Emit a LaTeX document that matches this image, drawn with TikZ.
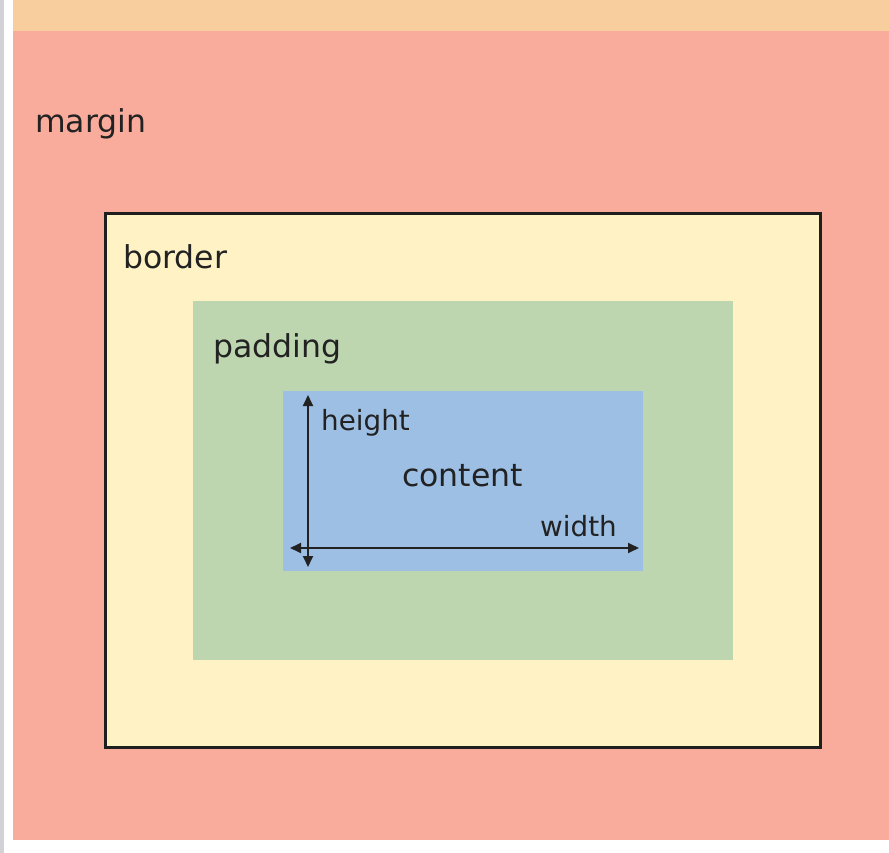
\documentclass[tikz,border=0pt]{standalone}
\usepackage{fontspec}
\setmainfont{DejaVu Sans}
\usetikzlibrary{arrows.meta}
\definecolor{graystrip}{HTML}{D2D2D6}
\definecolor{topband}{HTML}{F8CE9F}
\definecolor{marginc}{HTML}{F9AB9C}
\definecolor{borderc}{HTML}{FFF3C6}
\definecolor{paddingc}{HTML}{BDD6AF}
\definecolor{contentc}{HTML}{9CBFE3}
\definecolor{txt}{HTML}{222222}
\begin{document}
\begin{tikzpicture}[x=1pt,y=-1pt,
  lbl/.style={anchor=base west,inner sep=0pt,text=txt,font=\fontsize{31.5}{36}\selectfont},
  smalllbl/.style={anchor=base west,inner sep=0pt,text=txt,font=\fontsize{27.8}{32}\selectfont},
  dim/.style={txt,line width=1.8pt,{Triangle[length=11pt,width=10pt]}-{Triangle[length=11pt,width=10pt]}}]
\useasboundingbox (0,0) rectangle (889,853);
\fill[white] (0,0) rectangle (889,853);
\fill[graystrip] (0,0) rectangle (4,853);
\fill[topband] (13,0) rectangle (889,31);
\fill[marginc] (13,31) rectangle (889,840);
\fill[borderc] (105.5,213.5) rectangle (820.5,747.5);
\draw[txt!90!black,line width=2.6pt] (105.5,213.5) rectangle (820.5,747.5);
\fill[paddingc] (193,301) rectangle (733,660);
\fill[contentc] (283,391) rectangle (643,571);
\node[lbl] (margin) at (35,133) {margin};
\node[lbl] (border) at (123,269) {border};
\node[lbl] (padding) at (213,357) {padding};
\node[lbl] (content) at (402,486) {content};
\node[smalllbl] (height) at (321,430) {height};
\node[smalllbl] (width) at (540,536) {width};
\coordinate (vtop) at (308,395);
\coordinate (vbot) at (308,567);
\coordinate (hl) at (290,548);
\coordinate (hr) at (639,548);
\draw[dim] (vtop) -- (vbot);
\draw[dim] (hl) -- (hr);
\end{tikzpicture}
\end{document}
